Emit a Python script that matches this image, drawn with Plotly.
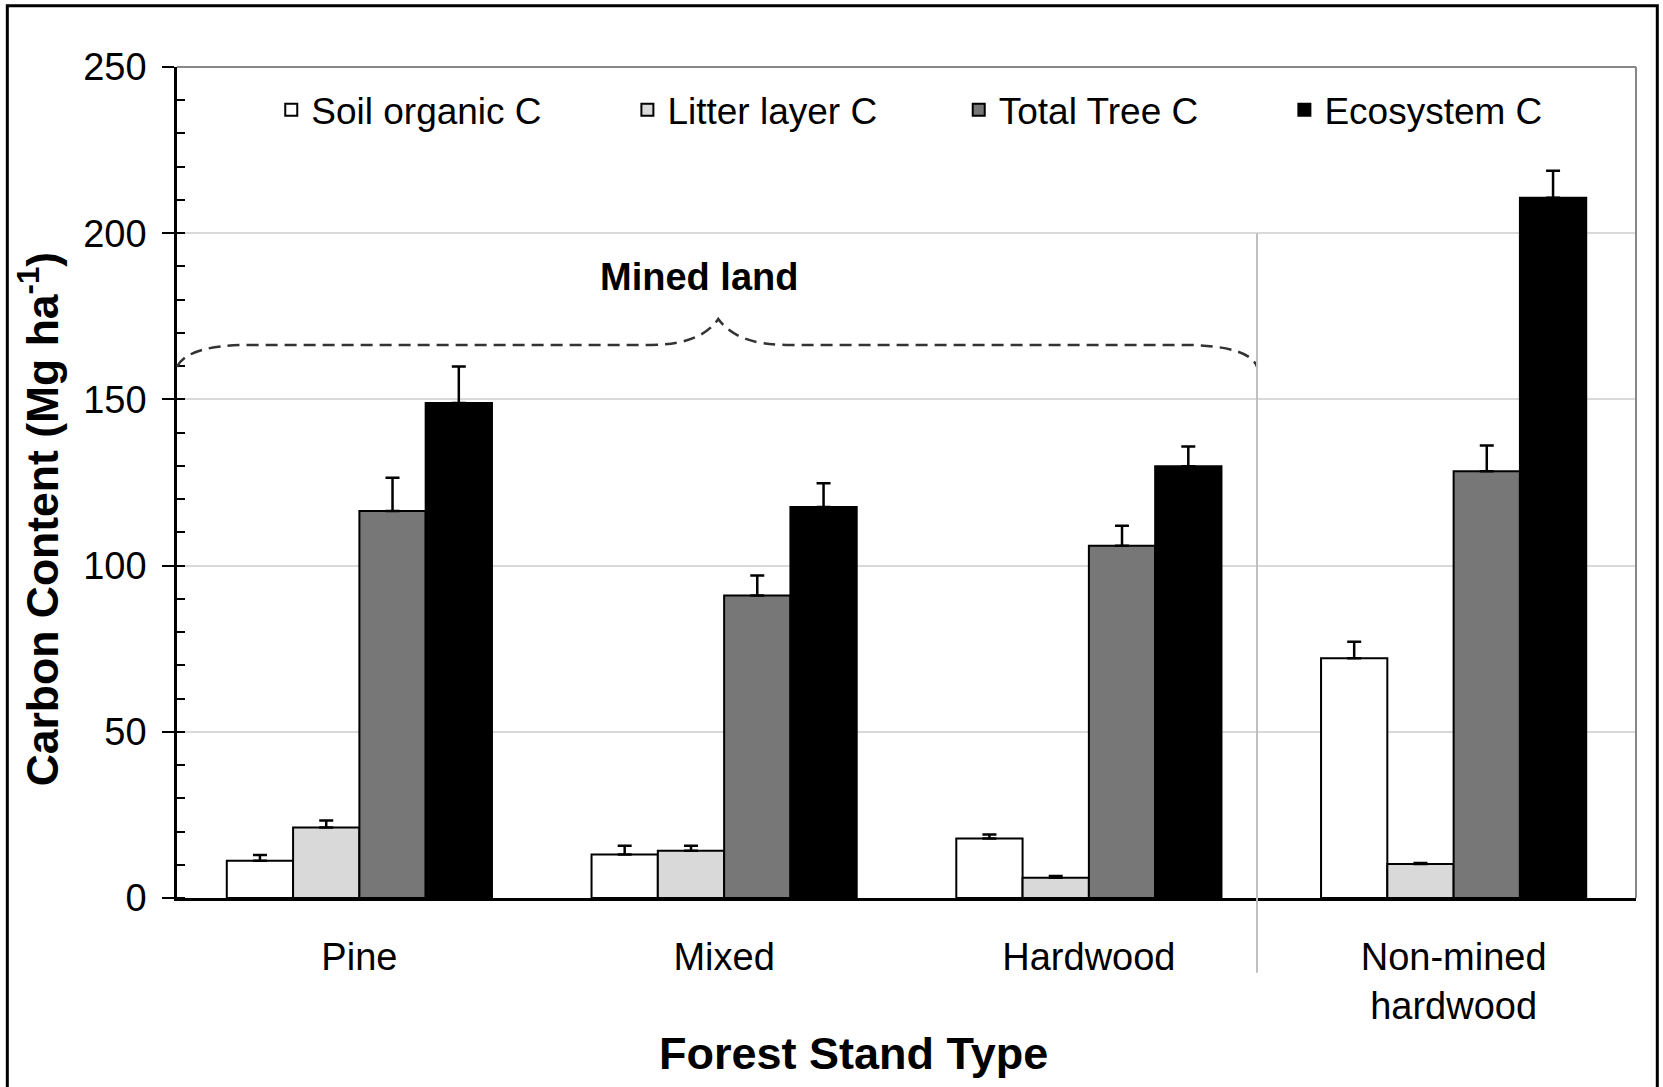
import plotly.graph_objects as go

categories = ["Pine", "Mixed", "Hardwood", "Non-mined<br>hardwood"]
series_names = ["Soil organic C", "Litter layer C", "Total Tree C", "Ecosystem C"]

soil_c = [11.2, 13.1, 17.9, 72.1]
soil_err = [1.7, 2.6, 1.2, 5.0]
litter_c = [21.2, 14.2, 6.1, 10.2]
litter_err = [2.1, 1.5, 0.5, 0.3]
tree_c = [116.4, 91.0, 106.0, 128.4]
tree_err = [10.0, 6.0, 6.0, 7.7]
eco_c = [148.9, 117.6, 129.9, 210.7]
eco_err = [11.0, 7.2, 5.9, 8.1]

y_ticks = [0, 50, 100, 150, 200, 250]

x_title = "<b>Forest Stand Type</b>"
y_title = "<b>Carbon Content (Mg ha<sup>-1</sup>)</b>"
group_label = "<b>Mined land</b>"

colors = ["#ffffff", "#d9d9d9", "#777777", "#000000"]
values = [soil_c, litter_c, tree_c, eco_c]
errors = [soil_err, litter_err, tree_err, eco_err]
legend_ids = ["legend", "legend2", "legend3", "legend4"]
legend_x = [0.0646, 0.3087, 0.5358, 0.759]

FONT = "Liberation Sans, Arial, sans-serif"

fig = go.Figure()
for name, vals, errs, col, lid in zip(series_names, values, errors, colors, legend_ids):
    fig.add_trace(go.Bar(
        name=name, x=categories, y=vals,
        marker=dict(color=col, line=dict(color="black", width=2)),
        error_y=dict(type="data", array=errs, arrayminus=[0] * len(errs), symmetric=False,
                     color="black", thickness=2.5, width=7),
        legend=lid,
    ))

legend_common = dict(orientation="h", yanchor="middle", y=0.948, xanchor="left",
                     bgcolor="rgba(0,0,0,0)", borderwidth=0,
                     font=dict(family=FONT, size=37, color="black"))
layout_legends = {}
for lid, lx in zip(legend_ids, legend_x):
    layout_legends[lid] = dict(legend_common, x=lx)

def cat_to_paper(c):
    return (c + 0.5) / 4.0

def y_to_paper(v):
    return v / 250.0

# brace path (category units, data units)
brace_pts = [
    ("M", [(-0.5, 159.8)]),
    ("Q", [(-0.47, 166.4), (-0.3, 166.4)]),
    ("L", [(0.80, 166.4)]),
    ("Q", [(0.935, 166.4), (0.984, 174.2)]),
    ("Q", [(1.035, 166.4), (1.17, 166.4)]),
    ("L", [(2.25, 166.4)]),
    ("Q", [(2.44, 166.4), (2.461, 159.8)]),
]
path = ""
for cmd, pts in brace_pts:
    path += cmd + " " + " ".join(f"{cat_to_paper(px):.5f},{y_to_paper(py):.5f}" for px, py in pts) + " "

sep_x = cat_to_paper(2.461)

shapes = [
    dict(type="path", path=path.strip(), xref="paper", yref="paper",
         line=dict(color="#333333", width=2.5, dash="12px,7px"), layer="above"),
    dict(type="line", xref="paper", yref="paper", x0=sep_x, x1=sep_x, y0=0.8, y1=-0.09,
         line=dict(color="#bfbfbf", width=2), layer="above"),
    dict(type="line", xref="paper", yref="paper", x0=0, x1=1, y0=1, y1=1,
         line=dict(color="#888888", width=2)),
    dict(type="line", xref="paper", yref="paper", x0=1, x1=1, y0=0, y1=1,
         line=dict(color="#888888", width=2)),
    dict(type="rect", xref="paper", yref="paper", x0=-0.1163, x1=1.0146, y0=-0.235, y1=1.0738,
         line=dict(color="black", width=3)),
]

annotations = [
    dict(text=group_label, x=cat_to_paper(0.932), y=y_to_paper(186.9),
         xref="paper", yref="paper", showarrow=False,
         font=dict(family=FONT, size=38, color="black"),
         xanchor="center", yanchor="middle"),
    dict(text=x_title, x=0.464, y=-0.1866, xref="paper", yref="paper", showarrow=False,
         font=dict(family=FONT, size=45, color="black"), xanchor="center", yanchor="middle"),
    dict(text=y_title, x=-0.0944, y=0.456, xref="paper", yref="paper", showarrow=False,
         textangle=-90, font=dict(family=FONT, size=44.5, color="black"),
         xanchor="center", yanchor="middle"),
]

fig.update_layout(
    width=1663, height=1087,
    margin=dict(l=177, r=27, t=67, b=189, pad=0),
    paper_bgcolor="white", plot_bgcolor="white",
    barmode="group", bargap=0.273, bargroupgap=0,
    font=dict(family=FONT, size=38, color="black"),
    showlegend=True,
    shapes=shapes,
    annotations=annotations,
    **layout_legends,
)

fig.update_xaxes(
    type="category", range=[-0.5, 3.5],
    showline=True, linecolor="black", linewidth=3,
    ticks="", showgrid=False, ticklabelstandoff=23,
    tickfont=dict(family=FONT, size=38, color="black"),
)
fig.update_yaxes(
    range=[0, 250], tickvals=y_ticks, ticktext=[str(v) for v in y_ticks],
    showline=True, linecolor="black", linewidth=2.5,
    ticks="outside", ticklen=12, tickwidth=2, tickcolor="black",
    minor=dict(dtick=10, ticks="inside", ticklen=8, tickwidth=2, tickcolor="black", showgrid=False),
    showgrid=True, gridcolor="#d9d9d9", gridwidth=1.5,
    zeroline=False, ticklabelstandoff=8,
    tickfont=dict(family=FONT, size=38, color="black"),
)

fig.write_html("out.html", config={"displayModeBar": False},
               post_script="document.body.style.margin='0';")
